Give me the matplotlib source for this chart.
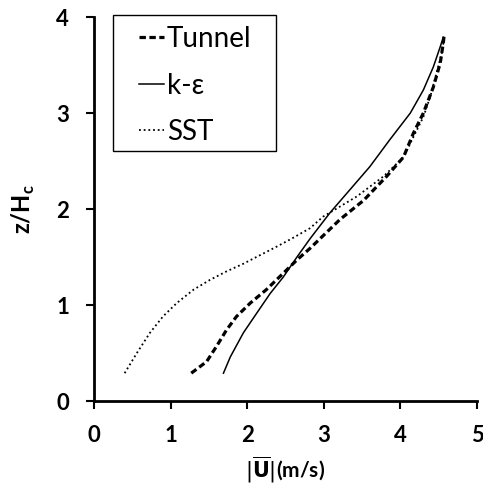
import matplotlib
matplotlib.use("Agg")
import matplotlib.pyplot as plt
from matplotlib.patches import Rectangle

tunnel_u = [1.27, 1.47, 1.60, 1.73, 1.86, 2.04, 2.25, 2.47, 2.65, 2.82, 2.95, 3.21, 3.52,
            3.82, 4.04, 4.17, 4.30, 4.43, 4.52, 4.56, 4.57]
tunnel_z = [0.29, 0.41, 0.57, 0.74, 0.88, 1.02, 1.16, 1.33, 1.47, 1.59, 1.69, 1.89, 2.09,
            2.34, 2.54, 2.79, 3.00, 3.27, 3.52, 3.73, 3.80]

ke_u = [1.69, 1.78, 1.95, 2.12, 2.30, 2.47, 2.65, 2.82, 3.08, 3.34, 3.60, 3.86, 4.13, 4.30,
        4.43, 4.52, 4.56]
ke_z = [0.29, 0.46, 0.71, 0.91, 1.12, 1.29, 1.50, 1.69, 1.96, 2.20, 2.44, 2.72, 3.00, 3.24,
        3.48, 3.69, 3.79]

sst_u = [0.40, 0.56, 0.73, 0.90, 1.08, 1.30, 1.51, 1.73, 1.95, 2.17, 2.39, 2.60, 2.82, 2.99,
         3.43, 3.78, 4.04, 4.17, 4.30, 4.39, 4.47, 4.54, 4.57]
sst_z = [0.29, 0.50, 0.71, 0.88, 1.02, 1.16, 1.26, 1.35, 1.43, 1.52, 1.61, 1.70, 1.80, 1.92,
         2.13, 2.34, 2.54, 2.75, 2.96, 3.17, 3.41, 3.62, 3.78]

xticks = [0, 1, 2, 3, 4, 5]
yticks = [0, 1, 2, 3, 4]

plt.rcParams['font.family'] = ['Lato', 'DejaVu Sans']

W, H = 483, 487
fig = plt.figure(figsize=(W/100, H/100), dpi=100)
ax = fig.add_axes([94/W, 86/H, 383/W, 384/H])

ax.plot(tunnel_u, tunnel_z, color='black', lw=2.3, ls=(0, (2, 1.1)), label='Tunnel')
ax.plot(ke_u, ke_z, color='black', lw=1.1, ls='-', label='k-ε')
ax.plot(sst_u, sst_z, color='black', lw=1.3, ls=(0, (1, 1.6)), label='SST')

ax.set_xlim(0, 5)
ax.set_ylim(0, 4)
ax.set_xticks(xticks)
ax.set_yticks(yticks)
for s in ['top', 'right']:
    ax.spines[s].set_visible(False)
for s in ['left', 'bottom']:
    ax.spines[s].set_linewidth(2)
ax.tick_params(width=1.5, length=6, labelsize=16)
ax.tick_params(axis='x', pad=11)
ax.tick_params(axis='y', pad=12)
for lbl in ax.get_xticklabels() + ax.get_yticklabels():
    lbl.set_fontweight('bold')

ax.set_xlabel(r'$|\overline{\mathbf{U}}|$(m/s)', fontsize=15, fontweight='bold', labelpad=7)
ax.set_ylabel(r'z/H$_\mathregular{c}$', fontsize=17, fontweight='bold', labelpad=14)

leg = ax.legend(loc='upper left', bbox_to_anchor=(139/W, 1 - 26/H),
                bbox_transform=fig.transFigure, fontsize=20, frameon=False,
                handlelength=0.9, handletextpad=0.1, labelspacing=0.74,
                borderpad=0, borderaxespad=0)

fig.patches.append(Rectangle((113/W, 1 - 151/H), (276 - 113)/W, (151 - 15)/H,
                             transform=fig.transFigure, fill=False,
                             edgecolor='black', linewidth=1.0, zorder=5))

fig.savefig('out.png', dpi=100)
